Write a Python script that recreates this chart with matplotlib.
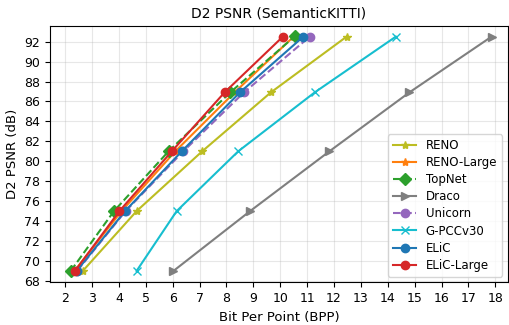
import matplotlib
matplotlib.use("Agg")
import matplotlib.pyplot as plt

psnr = [69.0, 75.0, 81.0, 86.9, 92.5]

reno_bpp = [2.66, 4.66, 7.1, 9.65, 12.47]
reno_large_bpp = [2.35, 4.1, 6.1, 8.3, 10.5]
topnet_bpp = [2.21, 3.82, 5.85, 8.14, 10.55]
topnet_psnr = [69.0, 75.0, 81.0, 86.9, 92.55]
draco_bpp = [6.03, 8.88, 11.83, 14.8, 17.86]
unicorn_bpp = [2.45, 4.25, 6.4, 8.65, 11.1]
gpcc_bpp = [4.66, 6.15, 8.44, 11.28, 14.3]
elic_bpp = [2.43, 4.23, 6.34, 8.5, 10.86]
elic_large_bpp = [2.37, 4.02, 5.97, 7.93, 10.1]

series = [
    ("RENO", reno_bpp, psnr, "tab:olive", "*", "-"),
    ("RENO-Large", reno_large_bpp, psnr, "tab:orange", "*", "-"),
    ("TopNet", topnet_bpp, topnet_psnr, "tab:green", "D", "--"),
    ("Draco", draco_bpp, psnr, "tab:gray", ">", "-"),
    ("Unicorn", unicorn_bpp, psnr, "tab:purple", "o", "--"),
    ("G-PCCv30", gpcc_bpp, psnr, "tab:cyan", "x", "-"),
    ("ELiC", elic_bpp, psnr, "tab:blue", "o", "-"),
    ("ELiC-Large", elic_large_bpp, psnr, "tab:red", "o", "-"),
]

fig, ax = plt.subplots(figsize=(5.1, 3.25), dpi=100)
fig.subplots_adjust(left=0.098, right=0.996, top=0.921, bottom=0.131)

for name, x, y, color, marker, ls in series:
    ax.plot(x, y, color=color, marker=marker, linestyle=ls, label=name,
            markersize=6, linewidth=1.5)

ax.set_xlim(1.44, 18.47)
ax.set_ylim(67.85, 93.6)
ax.set_xticks(range(2, 19))
ax.set_yticks(range(68, 93, 2))
ax.tick_params(labelsize=9)
ax.grid(True, alpha=0.3)
ax.set_title("D2 PSNR (SemanticKITTI)", fontsize=10)
ax.set_xlabel("Bit Per Point (BPP)", fontsize=9.5)
ax.set_ylabel("D2 PSNR (dB)", fontsize=9.5)
ax.legend(loc="lower right", fontsize=8.5, labelspacing=0.35)

fig.savefig("out.png", dpi=100)
